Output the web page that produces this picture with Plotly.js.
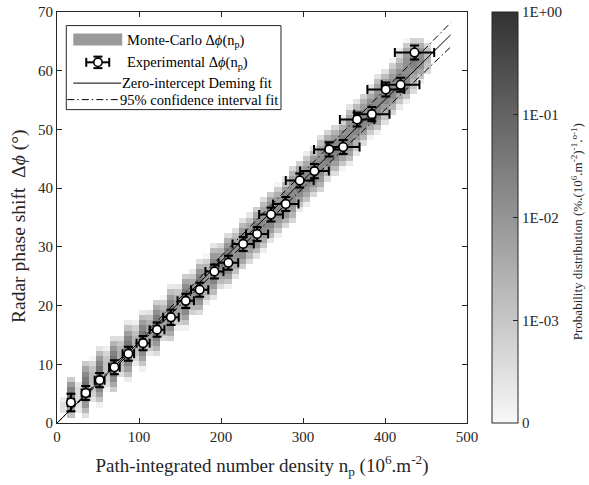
<!DOCTYPE html>
<html>
<head>
<meta charset="utf-8">
<script src="https://cdn.plot.ly/plotly-3.0.1.min.js"></script>
<style>html,body{margin:0;padding:0;background:#fff;}#chart{width:589px;height:485px;}</style>
</head>
<body>
<div id="chart"></div>
<script>
// ---------- data ----------
const npExp   = [17,35,52,70,87,105,122,139,157,174,192,209,227,244,261,279,296,314,332,349,366,384,401,419,436];
const dphiExp = [3.5,5.1,7.3,9.5,11.8,13.6,15.9,18.0,20.8,22.7,25.8,27.3,30.5,32.2,35.5,37.3,41.3,42.9,46.6,47.0,51.7,52.6,56.8,57.6,63.1];
const npErr   = [4,5,6,6.5,7,8,9,9.5,10,10.5,11,12,13,13.5,14.5,15.5,17,17.5,18.5,20,21,21.5,22.5,23,24];
const dphiErr = [1.5,1.2,1.2,1.2,1.2,1.2,1.2,1.3,1.2,1.2,1.2,1.2,1.2,1.2,1.2,1.2,1.2,1.2,1.2,1.2,1.2,1.2,1.2,1.2,1.2];
// Monte-Carlo cloud for each point: centre in phase, spread in np and in phase
const mcPhi       = [4.3,6.0,8.0,10.0,12.3,14.2,16.4,18.6,21.0,23.2,25.9,27.8,30.5,32.6,35.3,37.5,40.6,42.8,45.8,47.6,50.8,53.0,56.0,58.3,61.8];
const mcSpreadNp  = [1.5,1.5,1.6,1.7,1.8,2.0,2.2,2.4,2.6,2.8,3.0,3.3,3.6,3.9,4.2,4.5,4.8,5.0,5.2,5.4,5.6,5.8,6.0,6.2,6.4];
const mcSpreadPhi = [1.05,1.45,1.45,1.45,1.45,1.45,1.45,1.4,1.4,1.4,1.35,1.35,1.3,1.3,1.3,1.25,1.25,1.25,1.25,1.2,1.2,1.2,1.2,1.2,1.2];
const mcSkew = 0.8;   // np shift per degree of phase inside one cloud
// fits (zero intercept)
const fitNp = [0, 480];
const slopeDeming = 0.1377, slopeLow = 0.1334, slopeHigh = 0.1420;
// colour bar
const cbTickVals = [0,1,2,3,4];
const cbTickText = ['0','1E-03','1E-02','1E-01','1E+00'];

// ---------- Monte-Carlo histogram grid ----------
const dx = 8.7, dy = 70/80;
const gx = [], gy = [];
for (let i=0;i<58;i++) gx.push(-0.4 + dx*i);
for (let j=0;j<80;j++) gy.push((j+0.5)*dy);
const amp = 0.22;
const z = [];
for (let j=0;j<gy.length;j++){
  const row=[];
  for (let i=0;i<gx.length;i++){
    let s=0, n=0;
    for (let a=0;a<8;a++){
      const x = gx[i] - dx/2 + (a+0.5)*dx/8;
      for (let b=0;b<3;b++){
        const y = gy[j] - dy/2 + (b+0.5)*dy/3;
        for (let k=0;k<npExp.length;k++){
          const sy = mcSpreadPhi[k], su = mcSpreadNp[k];
          const v = y - mcPhi[k];
          if (Math.abs(v) > 6*sy) continue;
          const u = x - npExp[k] - mcSkew*v;
          s += Math.exp(-0.5*(v/sy)*(v/sy) - 0.5*(u/su)*(u/su))/su;
        }
        n++;
      }
    }
    const val = 4 + Math.log10(amp*s/n + 1e-30);
    row.push(val > 0.05 ? Math.min(val,4) : null);
  }
  z.push(row);
}

const FONT = 'Liberation Serif, Times New Roman, serif';
const INK = '#262626';
const DASHDOT = '7px,3px,1.5px,3px';

const traces = [
  {type:'heatmap', x:gx, y:gy, z:z, zmin:0, zmax:4, hoverongaps:false,
   colorscale:[[0,'rgb(248,248,248)'],[1,'rgb(50,50,50)']],
   colorbar:{x:1.060, xanchor:'left', y:0.5, yanchor:'middle', len:1, lenmode:'fraction',
     thickness:26, thicknessmode:'pixels', xpad:0, ypad:0, outlinewidth:1, outlinecolor:INK,
     tickmode:'array', tickvals:cbTickVals, ticktext:cbTickText, ticks:'inside', ticklen:5, tickcolor:INK,
     tickfont:{family:FONT, size:15, color:INK}},
   showlegend:false},
  {type:'scatter', mode:'lines', x:fitNp, y:fitNp.map(v=>v*slopeHigh), line:{color:'#000', width:1, dash:DASHDOT}, showlegend:false, hoverinfo:'skip'},
  {type:'scatter', mode:'lines', x:fitNp, y:fitNp.map(v=>v*slopeLow), line:{color:'#000', width:1, dash:DASHDOT}, showlegend:false, hoverinfo:'skip'},
  {type:'scatter', mode:'lines', x:fitNp, y:fitNp.map(v=>v*slopeDeming), line:{color:'#000', width:1}, showlegend:false, hoverinfo:'skip'},
  {type:'scatter', mode:'markers', x:npExp, y:dphiExp,
   error_x:{type:'data', array:npErr, visible:true, color:'#000', thickness:2, width:4.5},
   error_y:{type:'data', array:dphiErr, visible:true, color:'#000', thickness:2, width:4.5},
   marker:{size:8.5, color:'#fff', line:{color:'#000', width:1.6}}, showlegend:false}
];

// pixel -> paper helpers for the hand-built legend and titles
const L=56.7, R=467.3, T=12.4, B=423.3;
const P = px => (px-L)/(R-L);
const Q = py => (B-py)/(B-T);

const shapes = [
  {type:'rect', xref:'paper', yref:'paper', x0:P(66), x1:P(281), y0:Q(110), y1:Q(26), line:{color:INK, width:1}, fillcolor:'#fff', layer:'above'},
  {type:'rect', xref:'paper', yref:'paper', x0:P(73), x1:P(122), y0:Q(46), y1:Q(34), line:{width:0}, fillcolor:'#9a9a9a', layer:'above'},
  // experimental symbol
  {type:'line', xref:'paper', yref:'paper', x0:P(86), x1:P(109), y0:Q(62.7), y1:Q(62.7), line:{color:'#000', width:2}, layer:'above'},
  {type:'line', xref:'paper', yref:'paper', x0:P(86), x1:P(86), y0:Q(58.2), y1:Q(67.2), line:{color:'#000', width:2}, layer:'above'},
  {type:'line', xref:'paper', yref:'paper', x0:P(109), x1:P(109), y0:Q(58.2), y1:Q(67.2), line:{color:'#000', width:2}, layer:'above'},
  {type:'line', xref:'paper', yref:'paper', x0:P(97.7), x1:P(97.7), y0:Q(57), y1:Q(68.5), line:{color:'#000', width:2}, layer:'above'},
  {type:'line', xref:'paper', yref:'paper', x0:P(93.2), x1:P(102.2), y0:Q(57), y1:Q(57), line:{color:'#000', width:2}, layer:'above'},
  {type:'line', xref:'paper', yref:'paper', x0:P(93.2), x1:P(102.2), y0:Q(68.5), y1:Q(68.5), line:{color:'#000', width:2}, layer:'above'},
  {type:'circle', xref:'paper', yref:'paper', x0:P(93.5), x1:P(101.9), y0:Q(66.9), y1:Q(58.5), line:{color:'#000', width:1.6}, fillcolor:'#fff', layer:'above'},
  // fit samples
  {type:'line', xref:'paper', yref:'paper', x0:P(73), x1:P(121), y0:Q(83.5), y1:Q(83.5), line:{color:'#000', width:1}, layer:'above'},
  {type:'line', xref:'paper', yref:'paper', x0:P(67), x1:P(119), y0:Q(100), y1:Q(100), line:{color:'#000', width:1, dash:DASHDOT}, layer:'above'}
];

const annFont = {family:FONT, size:14.5, color:'#000'};
const annotations = [
  {xref:'paper', yref:'paper', x:P(125), y:Q(41), xanchor:'left', yanchor:'middle', showarrow:false, text:'Monte-Carlo Δ<i>ϕ</i>(n<sub>p</sub>)', font:annFont},
  {xref:'paper', yref:'paper', x:P(125), y:Q(63), xanchor:'left', yanchor:'middle', showarrow:false, text:'Experimental Δ<i>ϕ</i>(n<sub>p</sub>)', font:annFont},
  {xref:'paper', yref:'paper', x:P(120), y:Q(83.5), xanchor:'left', yanchor:'middle', showarrow:false, text:'Zero-intercept Deming fit', font:annFont},
  {xref:'paper', yref:'paper', x:P(118), y:Q(100), xanchor:'left', yanchor:'middle', showarrow:false, text:'95% confidence interval fit', font:annFont},
  // y axis title
  {xref:'paper', yref:'paper', x:P(18), y:Q(227), xanchor:'center', yanchor:'middle', showarrow:false, textangle:-90,
   text:'Radar phase shift \u00a0Δ<i>ϕ</i> (°)', font:{family:FONT, size:19.5, color:INK}},
  // colour bar title
  {xref:'paper', yref:'paper', x:P(577), y:Q(232), xanchor:'center', yanchor:'middle', showarrow:false, textangle:-90,
   text:'Probability distribution (%.(10<sup>6</sup>.m<sup>-2</sup>)<sup>-1</sup>.<sup>o-1</sup>)', font:{family:FONT, size:13, color:INK}}
];

const axisCommon = {showline:true, mirror:'ticks', linecolor:INK, linewidth:1, ticks:'inside', ticklen:5, tickcolor:INK,
  showgrid:false, zeroline:false, tickfont:{family:FONT, size:15, color:INK}};

const layout = {
  width:589, height:485, margin:{l:57, r:122, t:12, b:62},
  paper_bgcolor:'#fff', plot_bgcolor:'#fff', showlegend:false,
  xaxis:Object.assign({}, axisCommon, {range:[0,500], tickmode:'array', tickvals:[0,100,200,300,400,500],
    title:{text:'Path-integrated number density n<sub>p</sub> (10<sup>6</sup>.m<sup>-2</sup>)', font:{family:FONT, size:19, color:INK}, standoff:14}}),
  yaxis:Object.assign({}, axisCommon, {range:[0,70], tickmode:'array', tickvals:[0,10,20,30,40,50,60,70]}),
  shapes:shapes, annotations:annotations
};

Plotly.newPlot('chart', traces, layout, {displayModeBar:false, staticPlot:true});
</script>
</body>
</html>
